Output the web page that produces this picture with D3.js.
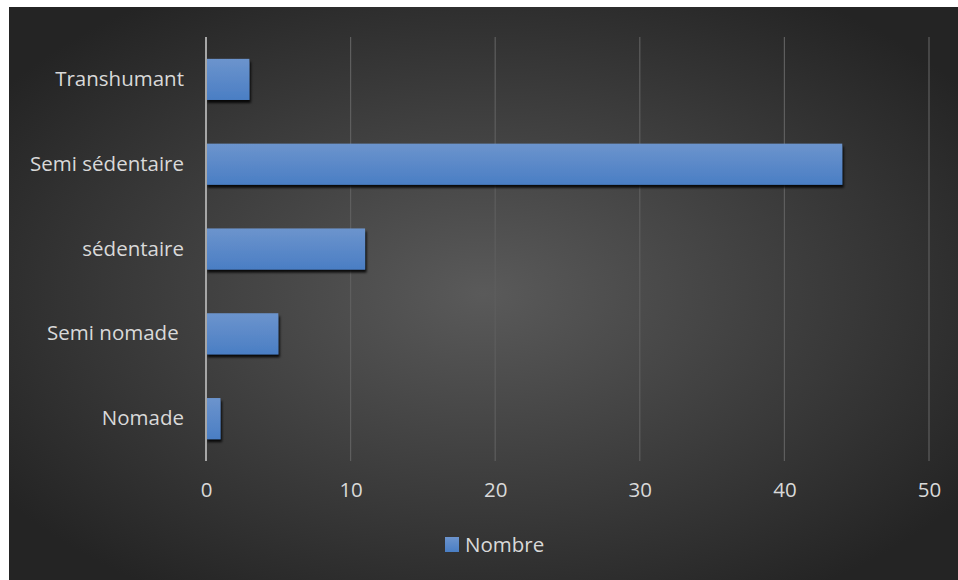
<!DOCTYPE html>
<html>
<head>
<meta charset="utf-8">
<script src="https://cdn.jsdelivr.net/npm/d3@7"></script>
<style>
  html, body { margin: 0; padding: 0; background: #ffffff; }
  svg { display: block; }
</style>
</head>
<body>
<svg id="chart" width="958" height="580"></svg>
<script>
// Effectifs par mode de vie
const categories = ["Transhumant", "Semi sédentaire", "sédentaire", "Semi nomade ", "Nomade"];
const values = [3, 44, 11, 5, 1];
const xTicks = [0, 10, 20, 30, 40, 50];
const seriesName = "Nombre";

const W = 958, H = 580;
const svg = d3.select("#chart");
const defs = svg.append("defs");

// Dark radial background
const bg = defs.append("radialGradient").attr("id", "bg")
  .attr("cx", "50%").attr("cy", "50%").attr("r", "62%");
bg.append("stop").attr("offset", "0%").attr("stop-color", "#5a5a5a");
bg.append("stop").attr("offset", "100%").attr("stop-color", "#242424");

const barGrad = defs.append("linearGradient").attr("id", "bar")
  .attr("x1", 0).attr("y1", 0).attr("x2", 0).attr("y2", 1);
barGrad.append("stop").attr("offset", "0%").attr("stop-color", "#6c94cd");
barGrad.append("stop").attr("offset", "100%").attr("stop-color", "#4a7ec4");

const shadow = defs.append("filter").attr("id", "shadow")
  .attr("x", "-20%").attr("y", "-20%").attr("width", "140%").attr("height", "150%");
shadow.append("feDropShadow").attr("dx", 1.5).attr("dy", 3).attr("stdDeviation", 0.8)
  .attr("flood-color", "#000").attr("flood-opacity", 0.85);

svg.append("rect").attr("x", 9).attr("y", 7).attr("width", W - 9).attr("height", H - 7)
  .attr("fill", "url(#bg)");

const margin = { left: 206, right: 29, top: 37, bottom: 119 };
const x = d3.scaleLinear().domain([0, 50]).range([margin.left, W - margin.right]);
const y = d3.scaleBand().domain(categories).range([margin.top, H - margin.bottom])
  .paddingInner(0.515).paddingOuter(0.2575);

const font = "'Open Sans', Lato, sans-serif";
const textColor = "#d9d9d9";
const fontSize = 20.5;

// Vertical gridlines
svg.append("g").selectAll("line").data(xTicks.filter(d => d > 0)).join("line")
  .attr("x1", d => x(d)).attr("x2", d => x(d))
  .attr("y1", margin.top).attr("y2", H - margin.bottom)
  .attr("stroke", "#5e5e5e").attr("stroke-width", 1.2);

// Bars
svg.append("g").selectAll("rect").data(categories).join("rect")
  .attr("x", x(0))
  .attr("y", d => y(d))
  .attr("width", (d, i) => x(values[i]) - x(0))
  .attr("height", y.bandwidth())
  .attr("fill", "url(#bar)")
  .attr("filter", "url(#shadow)");

// Category axis line
svg.append("line")
  .attr("x1", x(0)).attr("x2", x(0))
  .attr("y1", margin.top).attr("y2", H - margin.bottom)
  .attr("stroke", "#a6a6a6").attr("stroke-width", 2);

// Category labels
const yAxis = d3.axisLeft(y).tickSize(0).tickPadding(22);
const gy = svg.append("g").attr("transform", `translate(${x(0)},0)`).call(yAxis);
gy.select(".domain").remove();
gy.selectAll("text").attr("fill", textColor).attr("font-family", font).attr("font-size", fontSize)
  .style("white-space", "pre");

// Value axis labels
const xAxis = d3.axisBottom(x).tickValues(xTicks).tickSize(0).tickPadding(21);
const gx = svg.append("g").attr("transform", `translate(0,${H - margin.bottom})`).call(xAxis);
gx.select(".domain").remove();
gx.selectAll("text").attr("fill", textColor).attr("font-family", font).attr("font-size", fontSize);

// Legend
const lg = svg.append("g").attr("transform", "translate(445,537)");
lg.append("rect").attr("width", 14).attr("height", 15).attr("fill", "url(#bar)");
lg.append("text").attr("x", 20).attr("y", 8).attr("dy", "0.35em")
  .attr("fill", textColor).attr("font-family", font).attr("font-size", fontSize).text(seriesName);
</script>
</body>
</html>
